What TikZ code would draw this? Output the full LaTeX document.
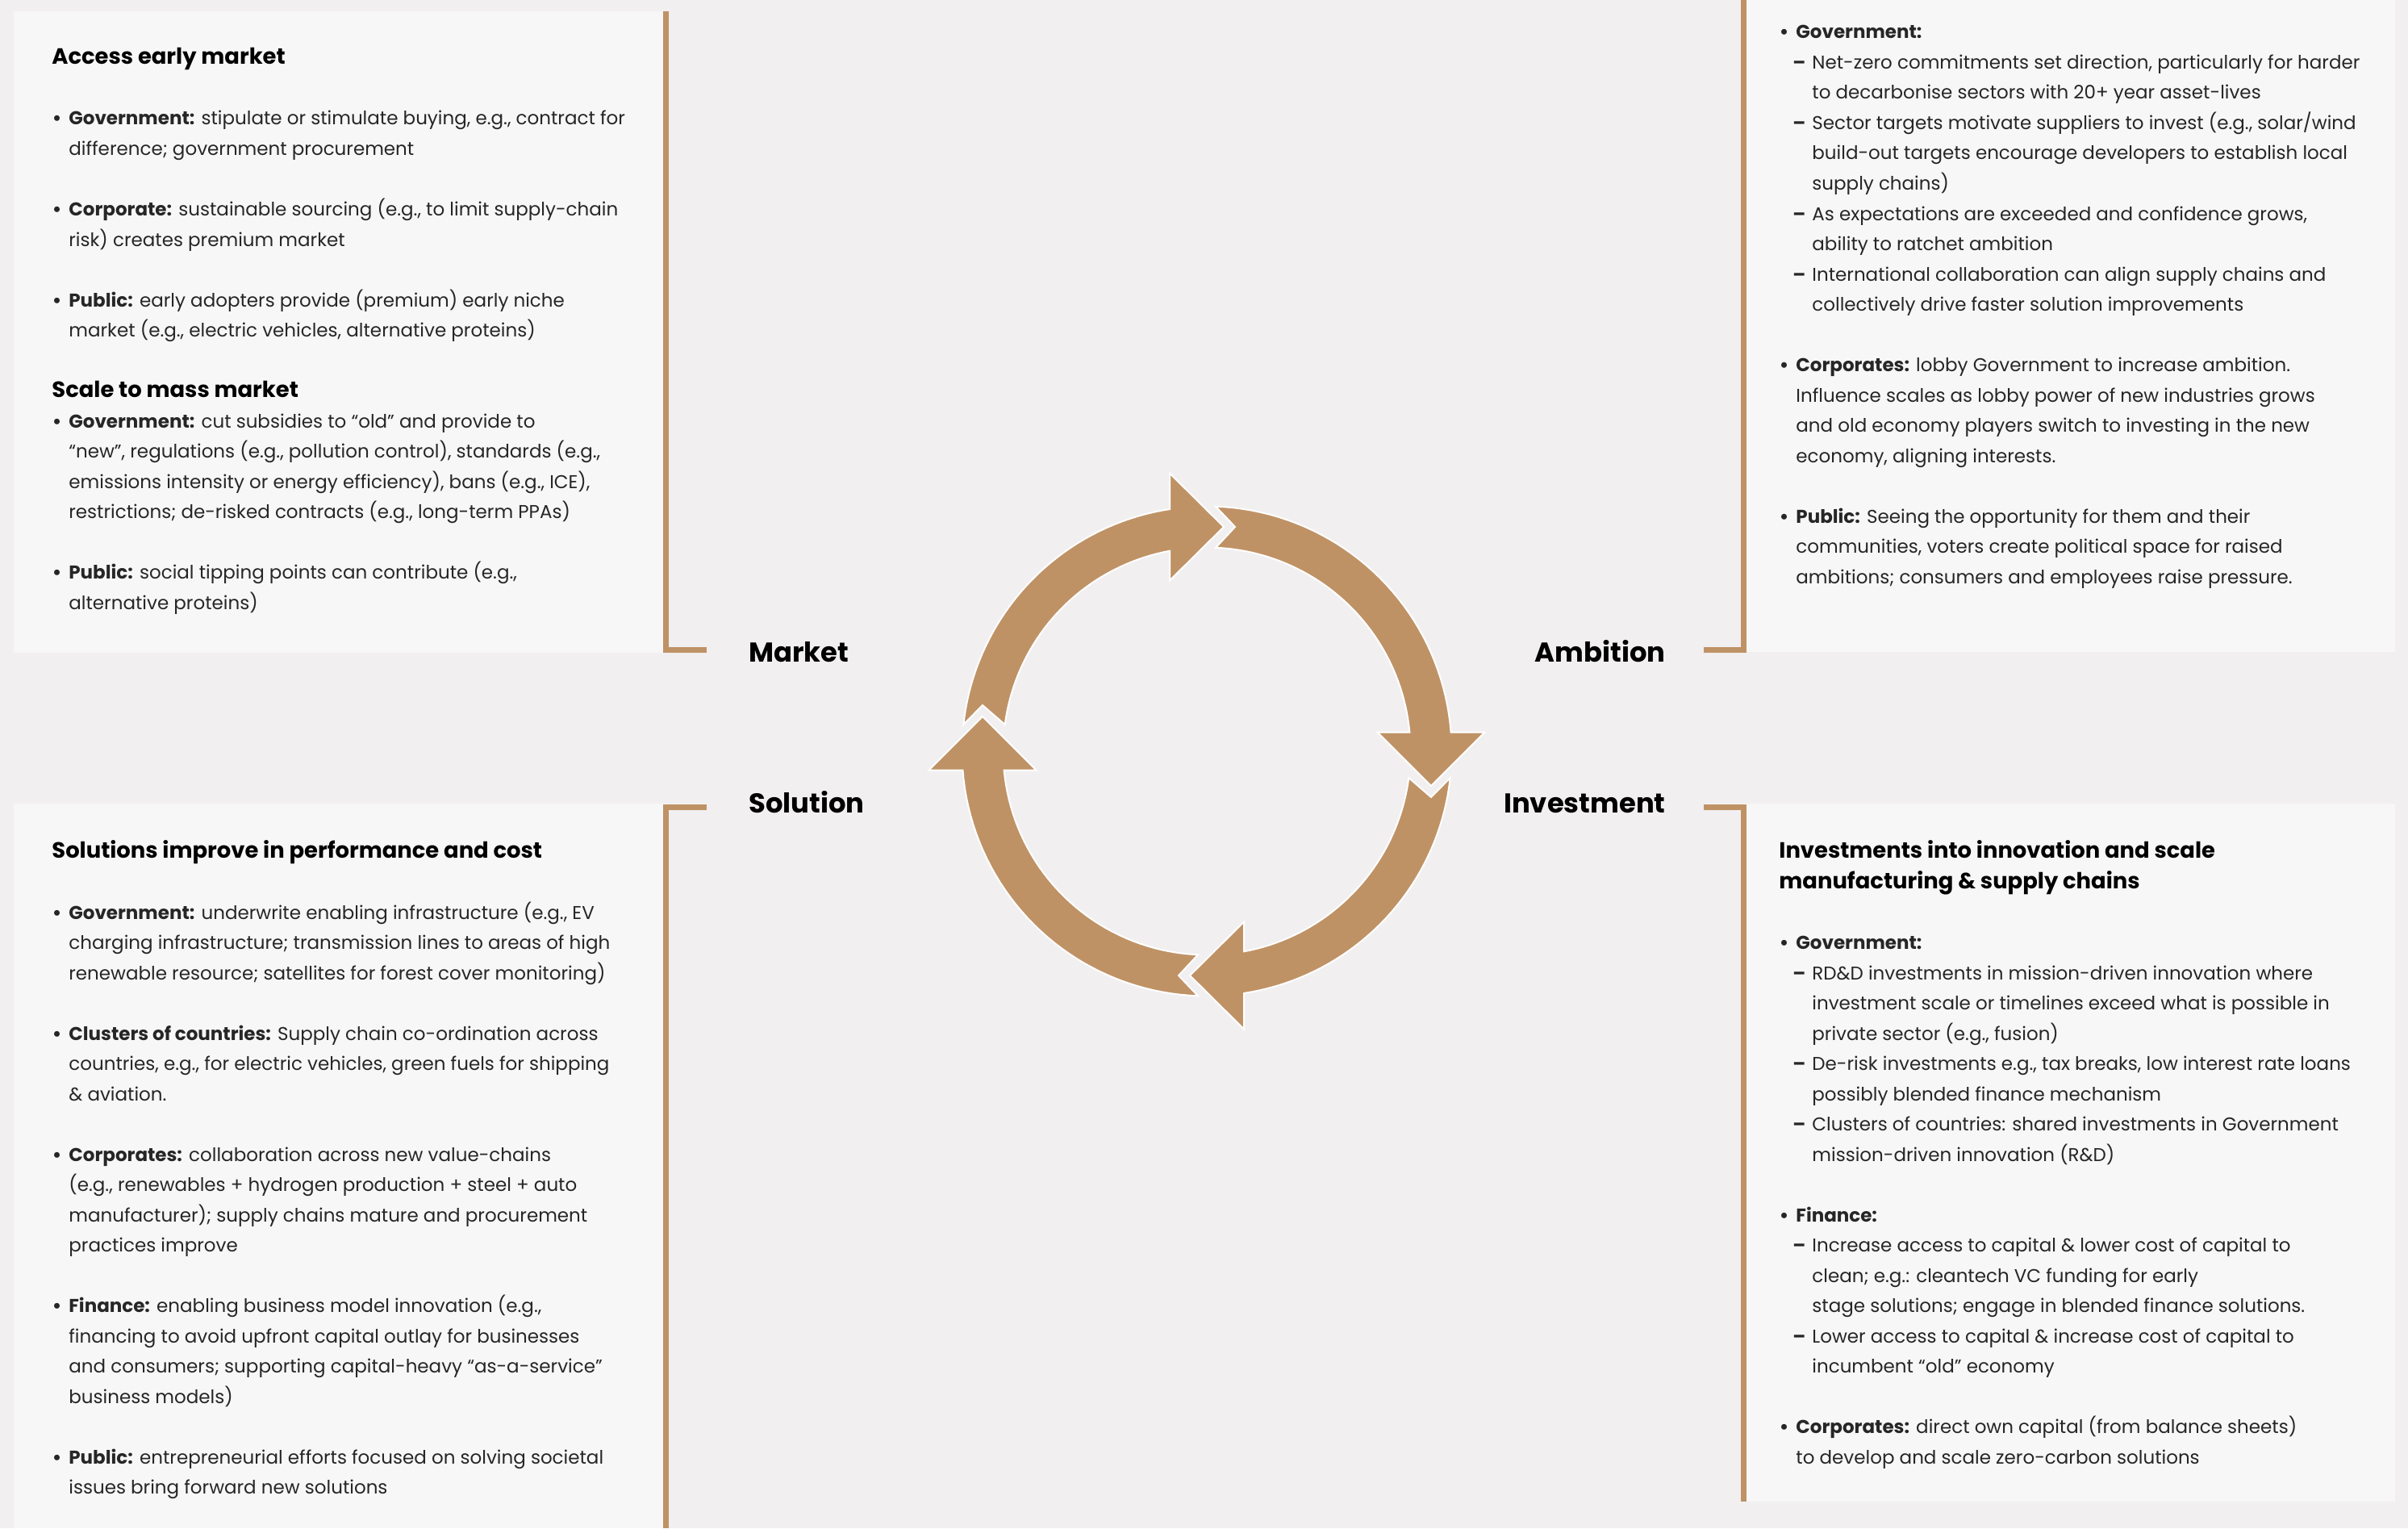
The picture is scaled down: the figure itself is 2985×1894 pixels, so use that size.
\documentclass[tikz,border=0pt]{standalone}
\usepackage{fontspec}
\setmainfont{Poppins}
\definecolor{bg}{RGB}{241,239,240}
\definecolor{boxc}{RGB}{248,247,248}
\definecolor{tan}{RGB}{191,146,101}
\definecolor{bodyc}{RGB}{38,38,38}
\newcounter{lnc}
\newcommand\Ln[3]{\stepcounter{lnc}\node[bodytxt] (ln\arabic{lnc}) at (#1,#2) {#3};}
\newcommand\Hd[4]{\node[headtxt] (#1) at (#2,#3) {#4};}
\newcommand\Bu{\llap{\textbf{•}\kern 4.5pt}}
\newcommand\Da{\llap{\textbf{–}\kern 4pt}}
\tikzset{
  bodytxt/.style={anchor=base west, inner sep=0pt, font=\fontsize{11.5pt}{13pt}\selectfont, text=bodyc},
  headtxt/.style={anchor=base west, inner sep=0pt, font=\bfseries\fontsize{13.7pt}{15pt}\selectfont, text=black},
  lbl/.style={inner sep=0pt, font=\bfseries\fontsize{16.9pt}{19pt}\selectfont, text=black},
  bracket/.style={draw=tan, line width=3.5pt, line join=miter},
  panel/.style={fill=boxc},
  cyc/.style={fill=tan, draw=white, line width=1pt, line join=miter}
}
\begin{document}
\begin{tikzpicture}[x=0.5pt,y=-0.5pt]
\useasboundingbox (0,0) rectangle (2985,1894);
\fill[bg] (0,0) rectangle (2985,1894);
% panels
\fill[panel] (17,14) rectangle (825,809);
\fill[panel] (2161,0) rectangle (2969,808);
\fill[panel] (17,996) rectangle (825,1894);
\fill[panel] (2161,996) rectangle (2969,1861);
% brackets
\draw[bracket] (825.5,14) -- (825.5,805.5) -- (876,805.5);
\draw[bracket] (2161.5,0) -- (2161.5,805.5) -- (2112,805.5);
\draw[bracket] (876,1000.5) -- (825.5,1000.5) -- (825.5,1894);
\draw[bracket] (2112,1000.5) -- (2161.5,1000.5) -- (2161.5,1861);
% labels
\node[lbl, anchor=base west] (market) at (928,820) {Market};
\node[lbl, anchor=base west] (solution) at (928,1007) {Solution};
\node[lbl, anchor=base east] (ambition) at (2065,820) {Ambition};
\node[lbl, anchor=base east] (investment) at (2065,1007) {Investment};
% cycle
\begin{scope}[shift={(1496,931)}]
\draw[cyc] (186.242:303.5) -- plot[domain=186.242:261.282,samples=40] (\x:303.5) -- (-46,-344.5) -- (21,-278) -- (-46,-211.5) -- plot[domain=259.503:187.509,samples=40] (\x:252.5) -- (-278,-57) -- cycle;
\draw[cyc] (272.077:303.5) -- plot[domain=272.077:355.559,samples=40] (\x:303.5) -- (344.5,-23.5) -- (278,43) -- (211.5,-23.5) -- plot[domain=354.660:272.497,samples=40] (\x:252.5) -- (35,-278) -- cycle;
\draw[cyc] (6.242:303.5) -- plot[domain=6.242:81.282,samples=40] (\x:303.5) -- (46,344.5) -- (-21,278) -- (46,211.5) -- plot[domain=79.503:7.509,samples=40] (\x:252.5) -- (278,57) -- cycle;
\draw[cyc] (92.077:303.5) -- plot[domain=92.077:175.559,samples=40] (\x:303.5) -- (-344.5,23.5) -- (-278,-43) -- (-211.5,23.5) -- plot[domain=174.660:92.497,samples=40] (\x:252.5) -- (-35,278) -- cycle;
\end{scope}
% top-left panel
\Hd{h1}{64}{80}{Access early market}
\Ln{85}{155}{\Bu\textbf{Government:} stipulate or stimulate buying, e.g., contract for}
\Ln{85}{192.5}{difference; government procurement}
\Ln{85}{267.5}{\Bu\textbf{Corporate:} sustainable sourcing (e.g., to limit supply-chain}
\Ln{85}{305}{risk) creates premium market}
\Ln{85}{380}{\Bu\textbf{Public:} early adopters provide (premium) early niche}
\Ln{85}{417.5}{market (e.g., electric vehicles, alternative proteins)}
\Hd{h2}{64}{492}{Scale to mass market}
\Ln{85}{530}{\Bu\textbf{Government:} cut subsidies to “old” and provide to}
\Ln{85}{567.5}{“new”, regulations (e.g., pollution control), standards (e.g.,}
\Ln{85}{605}{emissions intensity or energy efficiency), bans (e.g., ICE),}
\Ln{85}{642.5}{restrictions; de-risked contracts (e.g., long-term PPAs)}
\Ln{85}{717.5}{\Bu\textbf{Public:} social tipping points can contribute (e.g.,}
\Ln{85}{755}{alternative proteins)}
% top-right panel
\Ln{2226}{48}{\Bu\textbf{Government:}}
\Ln{2246}{85.5}{\Da Net-zero commitments set direction, particularly for harder}
\Ln{2246}{123}{to decarbonise sectors with 20+ year asset-lives}
\Ln{2246}{160.5}{\Da Sector targets motivate suppliers to invest (e.g., solar/wind}
\Ln{2246}{198}{build-out targets encourage developers to establish local}
\Ln{2246}{235.5}{supply chains)}
\Ln{2246}{273}{\Da As expectations are exceeded and confidence grows,}
\Ln{2246}{310.5}{ability to ratchet ambition}
\Ln{2246}{348}{\Da International collaboration can align supply chains and}
\Ln{2246}{385.5}{collectively drive faster solution improvements}
\Ln{2226}{460.5}{\Bu\textbf{Corporates:} lobby Government to increase ambition.}
\Ln{2226}{498}{Influence scales as lobby power of new industries grows}
\Ln{2226}{535.5}{and old economy players switch to investing in the new}
\Ln{2226}{573}{economy, aligning interests.}
\Ln{2226}{648}{\Bu\textbf{Public:} Seeing the opportunity for them and their}
\Ln{2226}{685.5}{communities, voters create political space for raised}
\Ln{2226}{723}{ambitions; consumers and employees raise pressure.}
% bottom-left panel
\Hd{h3}{64}{1063}{Solutions improve in performance and cost}
\Ln{85}{1139}{\Bu\textbf{Government:} underwrite enabling infrastructure (e.g., EV}
\Ln{85}{1176.5}{charging infrastructure; transmission lines to areas of high}
\Ln{85}{1214}{renewable resource; satellites for forest cover monitoring)}
\Ln{85}{1289}{\Bu\textbf{Clusters of countries:} Supply chain co-ordination across}
\Ln{85}{1326.5}{countries, e.g., for electric vehicles, green fuels for shipping}
\Ln{85}{1364}{\& aviation.}
\Ln{85}{1439}{\Bu\textbf{Corporates:} collaboration across new value-chains}
\Ln{85}{1476.5}{(e.g., renewables + hydrogen production + steel + auto}
\Ln{85}{1514}{manufacturer); supply chains mature and procurement}
\Ln{85}{1551.5}{practices improve}
\Ln{85}{1626.5}{\Bu\textbf{Finance:} enabling business model innovation (e.g.,}
\Ln{85}{1664}{financing to avoid upfront capital outlay for businesses}
\Ln{85}{1701.5}{and consumers; supporting capital-heavy “as-a-service”}
\Ln{85}{1739}{business models)}
\Ln{85}{1814}{\Bu\textbf{Public:} entrepreneurial efforts focused on solving societal}
\Ln{85}{1851.5}{issues bring forward new solutions}
% bottom-right panel
\Hd{h4}{2205}{1063}{Investments into innovation and scale}
\Hd{h5}{2205}{1101}{manufacturing \& supply chains}
\Ln{2226}{1176.5}{\Bu\textbf{Government:}}
\Ln{2246}{1214}{\Da RD\&D investments in mission-driven innovation where}
\Ln{2246}{1251.5}{investment scale or timelines exceed what is possible in}
\Ln{2246}{1289}{private sector (e.g., fusion)}
\Ln{2246}{1326.5}{\Da De-risk investments e.g., tax breaks, low interest rate loans}
\Ln{2246}{1364}{possibly blended finance mechanism}
\Ln{2246}{1401.5}{\Da Clusters of countries: shared investments in Government}
\Ln{2246}{1439}{mission-driven innovation (R\&D)}
\Ln{2226}{1514}{\Bu\textbf{Finance:}}
\Ln{2246}{1551.5}{\Da Increase access to capital \& lower cost of capital to}
\Ln{2246}{1589}{clean; e.g.: cleantech VC funding for early}
\Ln{2246}{1626.5}{stage solutions; engage in blended finance solutions.}
\Ln{2246}{1664}{\Da Lower access to capital \& increase cost of capital to}
\Ln{2246}{1701.5}{incumbent “old” economy}
\Ln{2226}{1776.5}{\Bu\textbf{Corporates:} direct own capital (from balance sheets)}
\Ln{2226}{1814}{to develop and scale zero-carbon solutions}
\end{tikzpicture}
\end{document}
